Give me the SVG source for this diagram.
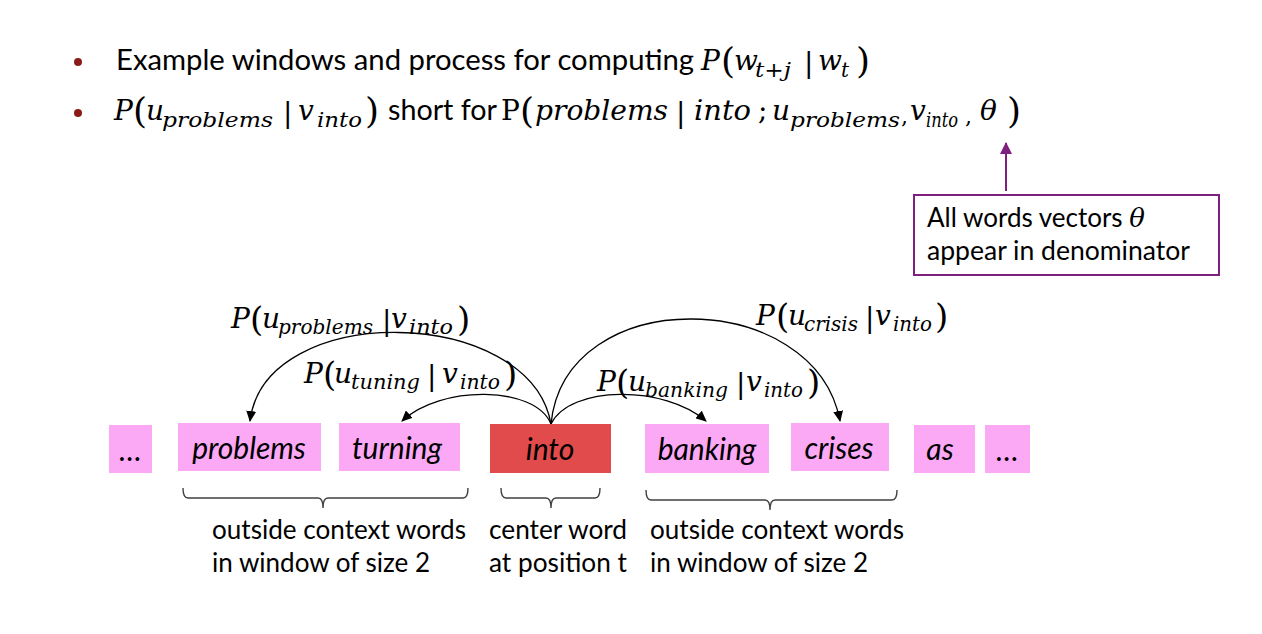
<svg xmlns="http://www.w3.org/2000/svg" width="1262" height="634" viewBox="0 0 1262 634">
<style>
.t{font-family:Lato,"Open Sans","Liberation Sans",sans-serif;fill:#000;}
.m{font-family:"DejaVu Serif","Liberation Serif",serif;font-style:italic;fill:#000;}
.mr{font-family:"DejaVu Serif","Liberation Serif",serif;fill:#000;}
.w{font-family:Lato,"Open Sans","Liberation Sans",sans-serif;font-style:italic;font-size:30px;fill:#000;text-anchor:middle;}
.pink{fill:#FBA9F5;}
.red{fill:#E24B4B;}
.brace{fill:none;stroke:#404040;stroke-width:1.4;}
.arc{fill:none;stroke:#000;stroke-width:1.3;marker-end:url(#ah);}
</style>
<defs>
<marker id="ah" markerWidth="11" markerHeight="10" refX="10" refY="5" orient="auto" markerUnits="userSpaceOnUse">
<path d="M0,0 L11,5 L0,10 Z" fill="#000"/>
</marker>
<marker id="ahp" markerWidth="12" markerHeight="12" refX="11" refY="6" orient="auto" markerUnits="userSpaceOnUse">
<path d="M0,0 L12,6 L0,12 Z" fill="#7F1F7F"/>
</marker>
</defs>
<rect width="1262" height="634" fill="#fff"/>

<g id="title">
<circle cx="78" cy="62" r="4" fill="#8B1A1A"/>
<circle cx="78" cy="113" r="4" fill="#8B1A1A"/>
<text class="t" x="116" y="70" font-size="28" textLength="578" lengthAdjust="spacingAndGlyphs">Example windows and process for computing</text>
<text class="m" x="701" y="70" font-size="28">P</text>
<text class="mr" x="721" y="73" font-size="36">(</text>
<text class="m" x="734" y="70" font-size="28">w</text>
<text class="m" x="755" y="77" font-size="20" textLength="36" lengthAdjust="spacingAndGlyphs">t+j</text>
<text class="mr" x="804" y="72" font-size="28">|</text>
<text class="m" x="818" y="70" font-size="28">w</text>
<text class="m" x="841" y="77" font-size="20">t</text>
<text class="mr" x="856" y="73" font-size="36">)</text>

<text class="m" x="114" y="120" font-size="28">P</text>
<text class="mr" x="133" y="123" font-size="36">(</text>
<text class="m" x="146" y="120" font-size="28">u</text>
<text class="m" x="162" y="127" font-size="21" textLength="111" lengthAdjust="spacingAndGlyphs">problems</text>
<text class="mr" x="283" y="122" font-size="28">|</text>
<text class="m" x="298" y="120" font-size="28">v</text>
<text class="m" x="317" y="127" font-size="21" textLength="45" lengthAdjust="spacingAndGlyphs">into</text>
<text class="mr" x="365" y="123" font-size="36">)</text>
<text class="t" x="388" y="120" font-size="28" textLength="109" lengthAdjust="spacingAndGlyphs">short for</text>
<text class="mr" x="501" y="120" font-size="28">P</text>
<text class="mr" x="520" y="123" font-size="36">(</text>
<text class="m" x="535" y="120" font-size="28" textLength="133" lengthAdjust="spacingAndGlyphs">problems</text>
<text class="mr" x="676" y="122" font-size="28">|</text>
<text class="m" x="694" y="120" font-size="28" textLength="57" lengthAdjust="spacingAndGlyphs">into</text>
<text class="mr" x="758" y="120" font-size="28">;</text>
<text class="m" x="772" y="120" font-size="28">u</text>
<text class="m" x="790" y="127" font-size="21" textLength="110" lengthAdjust="spacingAndGlyphs">problems</text>
<text class="mr" x="901" y="124" font-size="22">,</text>
<text class="m" x="910" y="120" font-size="28">v</text>
<text class="m" x="926" y="127" font-size="21" textLength="32" lengthAdjust="spacingAndGlyphs">into</text>
<text class="mr" x="965" y="124" font-size="22">,</text>
<text class="m" x="980" y="120" font-size="28">θ</text>
<text class="mr" x="1007" y="123" font-size="36">)</text>
</g>

<g id="note">
<line x1="1006" y1="191" x2="1006" y2="143" stroke="#7F1F7F" stroke-width="2" marker-end="url(#ahp)"/>
<rect x="914" y="195" width="305" height="80" fill="#fff" stroke="#7F1F7F" stroke-width="2"/>
<text class="t" x="927" y="227" font-size="26">All words vectors <tspan class="m" font-size="26">θ</tspan></text>
<text class="t" x="927" y="260" font-size="26" textLength="263" lengthAdjust="spacingAndGlyphs">appear in denominator</text>
</g>

<g id="connectors">
<path class="arc" d="M551,424 C530,305 265,300 250,421"/>
<path class="arc" d="M551,424 C535,385 440,385 402,421"/>
<path class="arc" d="M551,424 C570,385 665,385 706,421"/>
<path class="arc" d="M551,424 C565,282 815,287 840,421"/>
</g>

<g id="label-problems">
<text class="m" x="231" y="328" font-size="28">P</text>
<text class="mr" x="250" y="331" font-size="34">(</text>
<text class="m" x="262" y="328" font-size="28">u</text>
<text class="m" x="278" y="334" font-size="21" textLength="95" lengthAdjust="spacingAndGlyphs">problems</text>
<text class="mr" x="382" y="330" font-size="28">|</text>
<text class="m" x="391" y="328" font-size="28">v</text>
<text class="m" x="409" y="334" font-size="21" textLength="44" lengthAdjust="spacingAndGlyphs">into</text>
<text class="mr" x="457" y="331" font-size="34">)</text>
</g>
<g id="label-tuning">
<text class="m" x="304" y="383" font-size="28">P</text>
<text class="mr" x="323" y="386" font-size="34">(</text>
<text class="m" x="334" y="383" font-size="28">u</text>
<text class="m" x="351" y="389" font-size="21" textLength="69" lengthAdjust="spacingAndGlyphs">tuning</text>
<text class="mr" x="427" y="385" font-size="28">|</text>
<text class="m" x="442" y="383" font-size="28">v</text>
<text class="m" x="460" y="389" font-size="21" textLength="40" lengthAdjust="spacingAndGlyphs">into</text>
<text class="mr" x="504" y="386" font-size="34">)</text>
</g>
<g id="label-banking">
<text class="m" x="597" y="391" font-size="28">P</text>
<text class="mr" x="616" y="394" font-size="34">(</text>
<text class="m" x="628" y="391" font-size="28">u</text>
<text class="m" x="645" y="397" font-size="21" textLength="83" lengthAdjust="spacingAndGlyphs">banking</text>
<text class="mr" x="736" y="393" font-size="28">|</text>
<text class="m" x="746" y="391" font-size="28">v</text>
<text class="m" x="764" y="397" font-size="21" textLength="39" lengthAdjust="spacingAndGlyphs">into</text>
<text class="mr" x="807" y="394" font-size="34">)</text>
</g>
<g id="label-crisis">
<text class="m" x="756" y="325" font-size="28">P</text>
<text class="mr" x="776" y="328" font-size="34">(</text>
<text class="m" x="788" y="325" font-size="28">u</text>
<text class="m" x="804" y="331" font-size="21" textLength="54" lengthAdjust="spacingAndGlyphs">crisis</text>
<text class="mr" x="865" y="327" font-size="28">|</text>
<text class="m" x="875" y="325" font-size="28">v</text>
<text class="m" x="893" y="331" font-size="21" textLength="39" lengthAdjust="spacingAndGlyphs">into</text>
<text class="mr" x="935" y="328" font-size="34">)</text>
</g>

<g id="w-dots1"><rect class="pink" x="109" y="425" width="43" height="48"/><text class="w" x="130.5" y="461" font-style="normal" font-size="28">…</text></g>
<g id="w-problems"><rect class="pink" x="178" y="423" width="143" height="48"/><text class="w" x="249" y="459">problems</text></g>
<g id="w-turning"><rect class="pink" x="339" y="423" width="121" height="48"/><text class="w" x="397" y="459">turning</text></g>
<g id="w-into"><rect class="red" x="490" y="424" width="121" height="49"/><text class="w" x="550" y="460">into</text></g>
<g id="w-banking"><rect class="pink" x="645" y="424" width="124" height="49"/><text class="w" x="707" y="460">banking</text></g>
<g id="w-crises"><rect class="pink" x="791" y="423" width="98" height="48"/><text class="w" x="839" y="459">crises</text></g>
<g id="w-as"><rect class="pink" x="914" y="425" width="61" height="48"/><text class="w" x="940" y="460">as</text></g>
<g id="w-dots2"><rect class="pink" x="985" y="425" width="45" height="48"/><text class="w" x="1007.5" y="461" font-style="normal" font-size="28">…</text></g>

<g id="brace-left">
<path class="brace" d="M183,488 Q183,498 188,498 L318,498 Q323,498 323,508 Q323,498 328,498 L463,498 Q468,498 468,488"/>
<text class="t" x="212" y="539" font-size="26" textLength="254" lengthAdjust="spacingAndGlyphs">outside context words</text>
<text class="t" x="212" y="572" font-size="26" textLength="218" lengthAdjust="spacingAndGlyphs">in window of size 2</text>
</g>
<g id="brace-center">
<path class="brace" d="M501,488 Q501,498 506,498 L546,498 Q551,498 551,508 Q551,498 556,498 L595,498 Q600,498 600,488"/>
<text class="t" x="489" y="539" font-size="26" textLength="138" lengthAdjust="spacingAndGlyphs">center word</text>
<text class="t" x="489" y="572" font-size="26" textLength="138" lengthAdjust="spacingAndGlyphs">at position t</text>
</g>
<g id="brace-right">
<path class="brace" d="M646,490 Q646,500 651,500 L765,500 Q770,500 770,510 Q770,500 775,500 L892,500 Q897,500 897,490"/>
<text class="t" x="650" y="539" font-size="26" textLength="254" lengthAdjust="spacingAndGlyphs">outside context words</text>
<text class="t" x="650" y="572" font-size="26" textLength="218" lengthAdjust="spacingAndGlyphs">in window of size 2</text>
</g>
</svg>
